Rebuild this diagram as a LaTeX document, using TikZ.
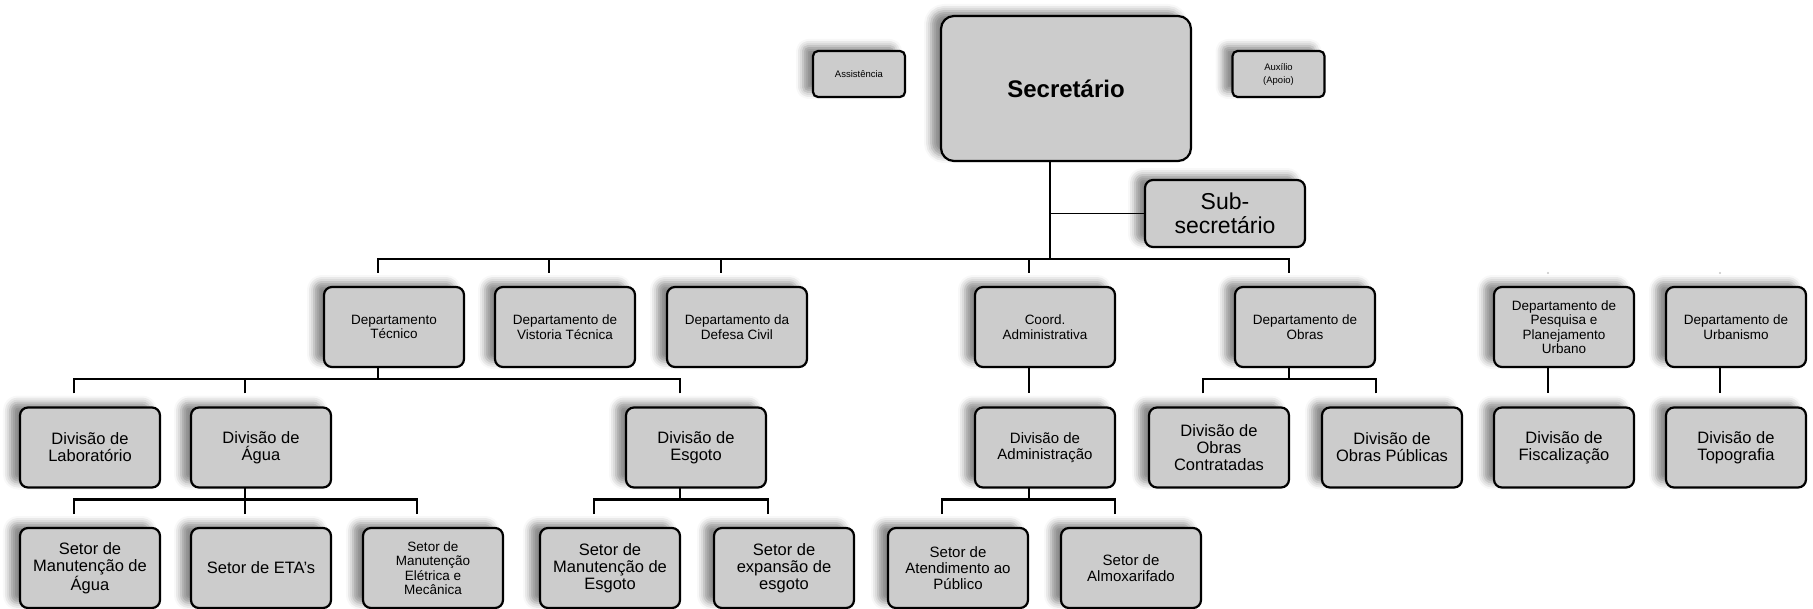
\documentclass[tikz,border=0pt]{standalone}
\usepackage{fontspec}
\setmainfont{Liberation Sans}
\usetikzlibrary{positioning,shadows.blur}
\definecolor{boxgray}{RGB}{204,204,204}
\tikzset{
unit/.style={
  draw=black,
  line width=2.2pt,
  fill=boxgray,
  rounded corners=8pt,
  align=center,
  inner sep=1pt,
  outer sep=0pt,
  minimum width=140pt,
  minimum height=80pt,
  blur shadow={shadow xshift=-10pt,shadow yshift=5pt,
               shadow blur radius=7pt,shadow opacity=45}
  },
headbox/.style={minimum width=250pt,minimum height=145pt,
  rounded corners=13pt,font=\bfseries\fontsize{24}{26}\selectfont},
sidebox/.style={minimum width=92pt,minimum height=46pt,
  rounded corners=5pt,font=\fontsize{9.5}{13}\selectfont},
subbox/.style={minimum width=160pt,minimum height=67pt,
  font=\fontsize{23}{24}\selectfont},
smalltext/.style={font=\fontsize{13.5}{14.5}\selectfont},
midtext/.style={font=\fontsize{15}{16}\selectfont},
bigtext/.style={font=\fontsize{16.5}{17}\selectfont},
link/.style={line width=2.4pt},
tip/.style={xshift=-16pt}
}

\begin{document}
\begin{tikzpicture}[x=1pt,y=1pt]
\useasboundingbox (0,0) rectangle (1813,-609);

\node[unit,headbox] (sec) at (1066,-88.5) {Secretário};
\node[unit,sidebox] (ass) at (859,-74) {Assistência};
\node[unit,sidebox] (aux) at (1278.5,-74) {Auxílio\\(Apoio)};
\node[unit,subbox] (sub) at (1225,-213.5) {Sub-\\secretário};

% departamentos
\node[unit,smalltext] (tec) at (394,-327) {Departamento\\Técnico};
\node[unit,smalltext,right=31pt of tec] (vis) {Departamento de\\Vistoria Técnica};
\node[unit,smalltext,right=32pt of vis] (civ) {Departamento da\\Defesa Civil};
\node[unit,smalltext] (coo) at (1045,-327) {Coord.\\Administrativa};
\node[unit,smalltext] (obr) at (1305,-327) {Departamento de\\Obras};
\node[unit,smalltext] (pes) at (1564,-327) {Departamento de\\Pesquisa e\\Planejamento\\Urbano};
\node[unit,smalltext,right=32pt of pes] (urb) {Departamento de\\Urbanismo};

% divisoes
\node[unit,bigtext] (lab) at (90,-447.5) {Divisão de\\Laboratório};
\node[unit,bigtext,right=31pt of lab] (agu) {Divisão de\\Água};
\node[unit,bigtext] (esg) at (696,-447.5) {Divisão de\\Esgoto};
\node[unit,midtext] (adm) at (1045,-447.5) {Divisão de\\Administração};
\node[unit,bigtext] (oco) at (1219,-447.5) {Divisão de\\Obras\\Contratadas};
\node[unit,bigtext] (opu) at (1392,-447.5) {Divisão de\\Obras Públicas};
\node[unit,bigtext] (fis) at (1564,-447.5) {Divisão de\\Fiscalização};
\node[unit,bigtext,right=32pt of fis] (tpg) {Divisão de\\Topografia};

% setores
\node[unit,bigtext] (sma) at (90,-568) {Setor de\\Manutenção de\\Água};
\node[unit,bigtext,right=31pt of sma] (eta) {Setor de ETA's};
\node[unit,smalltext,right=32pt of eta] (sme) {Setor de\\Manutenção\\Elétrica e\\Mecânica};
\node[unit,bigtext] (mes) at (610,-568) {Setor de\\Manutenção de\\Esgoto};
\node[unit,bigtext] (exe) at (784,-568) {Setor de\\expansão de\\esgoto};
\node[unit,midtext] (ate) at (958,-568) {Setor de\\Atendimento ao\\Público};
\node[unit,midtext] (alm) at (1131,-568) {Setor de\\Almoxarifado};

\draw[link] ([tip]sec.south) -- ++(0,-98) coordinate (secbus);
\draw[line width=1.8pt] (sub.west) -- (sub.west -| secbus);
\foreach \c in {tec,vis,civ,coo,obr}
  \draw[link] ([tip,yshift=14pt]\c.north) |- (secbus);

\draw[link] ([tip]tec.south) -- ++(0,-12) coordinate (tecbus);
\foreach \c in {lab,agu,esg}
  \draw[link] ([tip,yshift=14pt]\c.north) |- (tecbus);
\draw[link] ([tip]obr.south) -- ++(0,-12) coordinate (obrbus);
\foreach \c in {oco,opu}
  \draw[link] ([tip,yshift=14pt]\c.north) |- (obrbus);
\draw[link] ([tip]coo.south) -- ([tip,yshift=14pt]adm.north);
\draw[link] ([tip]pes.south) -- ([tip,yshift=14pt]fis.north);
\draw[link] ([tip]urb.south) -- ([tip,yshift=14pt]tpg.north);
\foreach \c in {pes,urb}
  \fill[gray!45] ([tip,yshift=14pt]\c.north) circle (1.2pt);

\draw[link] ([tip]agu.south) -- ++(0,-12) coordinate (agubus);
\foreach \c in {sma,eta,sme}
  \draw[link] ([tip,yshift=14pt]\c.north) |- (agubus);
\draw[link] ([tip]esg.south) -- ++(0,-12) coordinate (esgbus);
\foreach \c in {mes,exe}
  \draw[link] ([tip,yshift=14pt]\c.north) |- (esgbus);
\draw[link] ([tip]adm.south) -- ++(0,-12) coordinate (admbus);
\foreach \c in {ate,alm}
  \draw[link] ([tip,yshift=14pt]\c.north) |- (admbus);

\end{tikzpicture}
\end{document}
